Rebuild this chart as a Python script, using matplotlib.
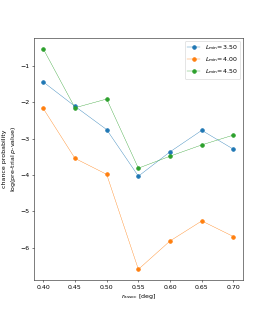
import matplotlib
matplotlib.use("Agg")
import matplotlib.pyplot as plt
import numpy as np

# radius of association [deg]
r_assoc = [0.40, 0.45, 0.50, 0.55, 0.60, 0.65, 0.70]

# log(pre-trial p-value) for each L_min
l_min = [3.50, 4.00, 4.50]
p_350 = [-1.44, -2.11, -2.75, -4.03, -3.36, -2.77, -3.29]
p_400 = [-2.17, -3.54, -3.98, -6.59, -5.81, -5.26, -5.69]
p_450 = [-0.53, -2.15, -1.91, -3.81, -3.48, -3.17, -2.90]

fig = plt.figure(figsize=(6, 7), dpi=45)
ax = fig.add_subplot(111)

for lm, vals in zip(l_min, [p_350, p_400, p_450]):
    ax.plot(r_assoc, vals, marker='o', lw=0.6, label=r'$L_{\rm min}$=%.2f' % lm)

ax.set_xlabel(r'$r_{\rm assoc}$ [deg]')
ax.set_ylabel('chance probability\nlog(pre-trial $p$-value)')
ax.legend(loc='upper right')

fig.savefig('out.png', dpi=45)
